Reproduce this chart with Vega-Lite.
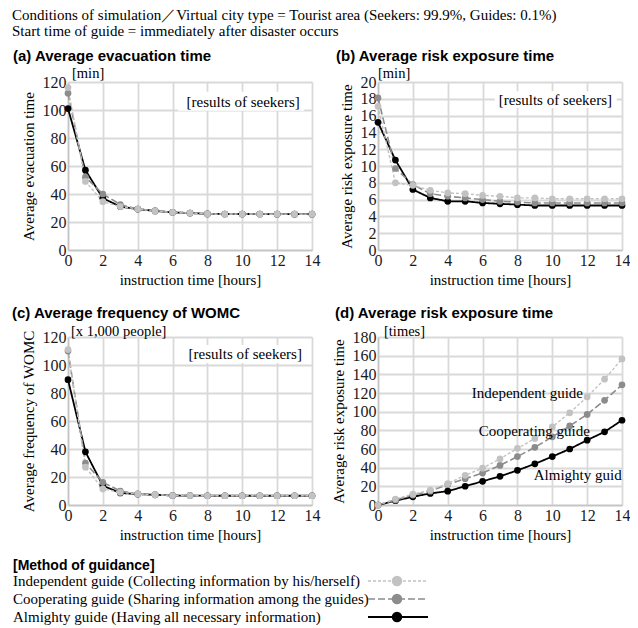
{
"$schema": "https://vega.github.io/schema/vega-lite/v6.json",
"background": "white",
"padding": {"left": 12, "top": 7, "right": 0, "bottom": 0},
"title": {"text": ["Conditions of simulation／Virtual city type = Tourist area (Seekers: 99.9%, Guides: 0.1%)", "Start time of guide = immediately after disaster occurs"], "anchor": "start", "frame": "bounds", "font": "Liberation Serif", "fontSize": 15, "fontWeight": "normal", "lineHeight": 16.5, "color": "#000", "offset": 10},
"columns": 2,
"bounds": "flush",
"spacing": {"row": 87, "column": 66},
"datasets": {
"a": [
{"method":"Almighty","hour":0,"value":101},{"method":"Almighty","hour":1,"value":57},{"method":"Almighty","hour":2,"value":37},{"method":"Almighty","hour":3,"value":31},{"method":"Almighty","hour":4,"value":29.2},{"method":"Almighty","hour":5,"value":27.9},{"method":"Almighty","hour":6,"value":26.9},{"method":"Almighty","hour":7,"value":26.4},{"method":"Almighty","hour":8,"value":25.8},{"method":"Almighty","hour":9,"value":25.7},{"method":"Almighty","hour":10,"value":25.7},{"method":"Almighty","hour":11,"value":25.7},{"method":"Almighty","hour":12,"value":25.6},{"method":"Almighty","hour":13,"value":25.6},{"method":"Almighty","hour":14,"value":25.6},
{"method":"Cooperating","hour":0,"value":112},{"method":"Cooperating","hour":1,"value":52},{"method":"Cooperating","hour":2,"value":40},{"method":"Cooperating","hour":3,"value":32.5},{"method":"Cooperating","hour":4,"value":29.3},{"method":"Cooperating","hour":5,"value":27.9},{"method":"Cooperating","hour":6,"value":26.9},{"method":"Cooperating","hour":7,"value":26.4},{"method":"Cooperating","hour":8,"value":25.8},{"method":"Cooperating","hour":9,"value":25.7},{"method":"Cooperating","hour":10,"value":25.7},{"method":"Cooperating","hour":11,"value":25.7},{"method":"Cooperating","hour":12,"value":25.6},{"method":"Cooperating","hour":13,"value":25.6},{"method":"Cooperating","hour":14,"value":25.6},
{"method":"Independent","hour":0,"value":116},{"method":"Independent","hour":1,"value":49},{"method":"Independent","hour":2,"value":34.5},{"method":"Independent","hour":3,"value":31},{"method":"Independent","hour":4,"value":29.3},{"method":"Independent","hour":5,"value":27.9},{"method":"Independent","hour":6,"value":26.9},{"method":"Independent","hour":7,"value":26.4},{"method":"Independent","hour":8,"value":25.8},{"method":"Independent","hour":9,"value":25.7},{"method":"Independent","hour":10,"value":25.7},{"method":"Independent","hour":11,"value":25.7},{"method":"Independent","hour":12,"value":25.6},{"method":"Independent","hour":13,"value":25.6},{"method":"Independent","hour":14,"value":25.6}
],
"b": [
{"method":"Almighty","hour":0,"value":15.2},{"method":"Almighty","hour":1,"value":10.7},{"method":"Almighty","hour":2,"value":7.2},{"method":"Almighty","hour":3,"value":6.2},{"method":"Almighty","hour":4,"value":5.8},{"method":"Almighty","hour":5,"value":5.8},{"method":"Almighty","hour":6,"value":5.6},{"method":"Almighty","hour":7,"value":5.5},{"method":"Almighty","hour":8,"value":5.4},{"method":"Almighty","hour":9,"value":5.3},{"method":"Almighty","hour":10,"value":5.3},{"method":"Almighty","hour":11,"value":5.3},{"method":"Almighty","hour":12,"value":5.3},{"method":"Almighty","hour":13,"value":5.3},{"method":"Almighty","hour":14,"value":5.3},
{"method":"Cooperating","hour":0,"value":18.1},{"method":"Cooperating","hour":1,"value":9.7},{"method":"Cooperating","hour":2,"value":7.8},{"method":"Cooperating","hour":3,"value":6.7},{"method":"Cooperating","hour":4,"value":6.4},{"method":"Cooperating","hour":5,"value":6.2},{"method":"Cooperating","hour":6,"value":6.0},{"method":"Cooperating","hour":7,"value":5.8},{"method":"Cooperating","hour":8,"value":5.7},{"method":"Cooperating","hour":9,"value":5.6},{"method":"Cooperating","hour":10,"value":5.6},{"method":"Cooperating","hour":11,"value":5.6},{"method":"Cooperating","hour":12,"value":5.6},{"method":"Cooperating","hour":13,"value":5.6},{"method":"Cooperating","hour":14,"value":5.6},
{"method":"Independent","hour":0,"value":17.1},{"method":"Independent","hour":1,"value":8.0},{"method":"Independent","hour":2,"value":7.7},{"method":"Independent","hour":3,"value":7.1},{"method":"Independent","hour":4,"value":6.8},{"method":"Independent","hour":5,"value":6.7},{"method":"Independent","hour":6,"value":6.5},{"method":"Independent","hour":7,"value":6.4},{"method":"Independent","hour":8,"value":6.2},{"method":"Independent","hour":9,"value":6.2},{"method":"Independent","hour":10,"value":6.1},{"method":"Independent","hour":11,"value":6.1},{"method":"Independent","hour":12,"value":6.1},{"method":"Independent","hour":13,"value":6.1},{"method":"Independent","hour":14,"value":6.1}
],
"c": [
{"method":"Almighty","hour":0,"value":89.5},{"method":"Almighty","hour":1,"value":38},{"method":"Almighty","hour":2,"value":13.8},{"method":"Almighty","hour":3,"value":8.6},{"method":"Almighty","hour":4,"value":7.8},{"method":"Almighty","hour":5,"value":7.3},{"method":"Almighty","hour":6,"value":6.8},{"method":"Almighty","hour":7,"value":6.7},{"method":"Almighty","hour":8,"value":6.6},{"method":"Almighty","hour":9,"value":6.6},{"method":"Almighty","hour":10,"value":6.6},{"method":"Almighty","hour":11,"value":6.6},{"method":"Almighty","hour":12,"value":6.6},{"method":"Almighty","hour":13,"value":6.6},{"method":"Almighty","hour":14,"value":6.6},
{"method":"Cooperating","hour":0,"value":110},{"method":"Cooperating","hour":1,"value":30},{"method":"Cooperating","hour":2,"value":16.2},{"method":"Cooperating","hour":3,"value":10},{"method":"Cooperating","hour":4,"value":7.9},{"method":"Cooperating","hour":5,"value":7.4},{"method":"Cooperating","hour":6,"value":6.8},{"method":"Cooperating","hour":7,"value":6.7},{"method":"Cooperating","hour":8,"value":6.6},{"method":"Cooperating","hour":9,"value":6.6},{"method":"Cooperating","hour":10,"value":6.6},{"method":"Cooperating","hour":11,"value":6.6},{"method":"Cooperating","hour":12,"value":6.6},{"method":"Cooperating","hour":13,"value":6.6},{"method":"Cooperating","hour":14,"value":6.6},
{"method":"Independent","hour":0,"value":111},{"method":"Independent","hour":1,"value":27},{"method":"Independent","hour":2,"value":11.5},{"method":"Independent","hour":3,"value":9},{"method":"Independent","hour":4,"value":7.9},{"method":"Independent","hour":5,"value":7.4},{"method":"Independent","hour":6,"value":6.8},{"method":"Independent","hour":7,"value":6.7},{"method":"Independent","hour":8,"value":6.6},{"method":"Independent","hour":9,"value":6.6},{"method":"Independent","hour":10,"value":6.6},{"method":"Independent","hour":11,"value":6.6},{"method":"Independent","hour":12,"value":6.6},{"method":"Independent","hour":13,"value":6.6},{"method":"Independent","hour":14,"value":6.6}
],
"d": [
{"method":"Almighty","hour":0,"value":0},{"method":"Almighty","hour":1,"value":4.6},{"method":"Almighty","hour":2,"value":8.8},{"method":"Almighty","hour":3,"value":12.4},{"method":"Almighty","hour":4,"value":14.8},{"method":"Almighty","hour":5,"value":20.1},{"method":"Almighty","hour":6,"value":25.4},{"method":"Almighty","hour":7,"value":30.7},{"method":"Almighty","hour":8,"value":37.1},{"method":"Almighty","hour":9,"value":44.1},{"method":"Almighty","hour":10,"value":51.9},{"method":"Almighty","hour":11,"value":60},{"method":"Almighty","hour":12,"value":69.5},{"method":"Almighty","hour":13,"value":78.4},{"method":"Almighty","hour":14,"value":90.8},
{"method":"Cooperating","hour":0,"value":0},{"method":"Cooperating","hour":1,"value":5.3},{"method":"Cooperating","hour":2,"value":10.6},{"method":"Cooperating","hour":3,"value":14.8},{"method":"Cooperating","hour":4,"value":21.9},{"method":"Cooperating","hour":5,"value":28.2},{"method":"Cooperating","hour":6,"value":34.2},{"method":"Cooperating","hour":7,"value":42.4},{"method":"Cooperating","hour":8,"value":51.9},{"method":"Cooperating","hour":9,"value":61.8},{"method":"Cooperating","hour":10,"value":73},{"method":"Cooperating","hour":11,"value":84.7},{"method":"Cooperating","hour":12,"value":97},{"method":"Cooperating","hour":13,"value":112.2},{"method":"Cooperating","hour":14,"value":128.8},
{"method":"Independent","hour":0,"value":0},{"method":"Independent","hour":1,"value":6.4},{"method":"Independent","hour":2,"value":11.6},{"method":"Independent","hour":3,"value":15.9},{"method":"Independent","hour":4,"value":23},{"method":"Independent","hour":5,"value":31.8},{"method":"Independent","hour":6,"value":39.5},{"method":"Independent","hour":7,"value":49.4},{"method":"Independent","hour":8,"value":60.7},{"method":"Independent","hour":9,"value":71.3},{"method":"Independent","hour":10,"value":83.7},{"method":"Independent","hour":11,"value":98.8},{"method":"Independent","hour":12,"value":115.8},{"method":"Independent","hour":13,"value":134.8},{"method":"Independent","hour":14,"value":156.5}
],
"legend": [
{"method":"Independent","label":"Independent guide (Collecting information by his/herself)"},
{"method":"Cooperating","label":"Cooperating guide (Sharing information among the guides)"},
{"method":"Almighty","label":"Almighty guide (Having all necessary information)"}
]
},
"concat": [
{
"width": 244, "height": 168,
"title": {"text": "(a) Average evacuation time", "anchor": "start", "frame": "group", "dx": -55, "offset": -10, "baseline": "alphabetic", "font": "Liberation Sans", "fontSize": 15, "fontWeight": "bold", "color": "#000"},
"layer": [
{"data": {"name": "a"}, "mark": {"type": "line"},
 "encoding": {
  "x": {"field": "hour", "type": "quantitative", "scale": {"domain": [0, 14], "nice": false}, "axis": {"tickCount": 7, "labelOverlap": false, "labelFlush": false, "title": "instruction time [hours]"}},
  "y": {"field": "value", "type": "quantitative", "scale": {"domain": [0, 120], "nice": false}, "axis": {"tickCount": 6, "labelOverlap": false, "title": "Average evacuation time"}},
  "color": {"field": "method", "type": "nominal", "scale": {"domain": ["Independent","Cooperating","Almighty"], "range": ["#c2c2c2","#8c8c8c","#000000"]}, "legend": null},
  "strokeDash": {"field": "method", "type": "nominal", "scale": {"domain": ["Independent","Cooperating","Almighty"], "range": [[3,2],[7,3],[1,0]]}, "legend": null},
  "strokeWidth": {"field": "method", "type": "nominal", "scale": {"domain": ["Independent","Cooperating","Almighty"], "range": [1.4,1.8,2]}, "legend": null}
 }},
{"data": {"name": "a"}, "mark": {"type": "point", "filled": true, "opacity": 1, "size": 45},
 "encoding": {
  "x": {"field": "hour", "type": "quantitative"},
  "y": {"field": "value", "type": "quantitative"},
  "color": {"field": "method", "type": "nominal", "scale": {"domain": ["Independent","Cooperating","Almighty"], "range": ["#bdbdbd","#8c8c8c","#000000"]}, "legend": null}
 }},
{"data": {"values": [{}]}, "mark": {"type": "rect", "fill": "white"},
 "encoding": {"x": {"datum": 6.3, "type": "quantitative"}, "x2": {"datum": 13.55}, "y": {"datum": 99.5, "type": "quantitative"}, "y2": {"datum": 113}}},
{"data": {"values": [{}]}, "mark": {"type": "text", "align": "right", "baseline": "middle", "font": "Liberation Serif", "fontSize": 15, "color": "#000"},
 "encoding": {"x": {"datum": 13.3, "type": "quantitative"}, "y": {"datum": 105.7, "type": "quantitative"}, "text": {"value": "[results of seekers]"}}},
{"data": {"values": [{}]}, "mark": {"type": "text", "align": "left", "baseline": "middle", "dx": 4, "dy": -8, "font": "Liberation Serif", "fontSize": 14.5, "color": "#000"},
 "encoding": {"x": {"datum": 0, "type": "quantitative"}, "y": {"datum": 120, "type": "quantitative"}, "text": {"value": "[min]"}}}
]
},
{
"width": 244, "height": 168,
"title": {"text": "(b) Average risk exposure time", "anchor": "start", "frame": "group", "dx": -42, "offset": -10, "baseline": "alphabetic", "font": "Liberation Sans", "fontSize": 15, "fontWeight": "bold", "color": "#000"},
"layer": [
{"data": {"name": "b"}, "mark": {"type": "line"},
 "encoding": {
  "x": {"field": "hour", "type": "quantitative", "scale": {"domain": [0, 14], "nice": false}, "axis": {"tickCount": 7, "labelOverlap": false, "labelFlush": false, "title": "instruction time [hours]"}},
  "y": {"field": "value", "type": "quantitative", "scale": {"domain": [0, 20], "nice": false}, "axis": {"tickCount": 10, "labelOverlap": false, "title": "Average risk exposure time"}},
  "color": {"field": "method", "type": "nominal", "scale": {"domain": ["Independent","Cooperating","Almighty"], "range": ["#c2c2c2","#8c8c8c","#000000"]}, "legend": null},
  "strokeDash": {"field": "method", "type": "nominal", "scale": {"domain": ["Independent","Cooperating","Almighty"], "range": [[3,2],[7,3],[1,0]]}, "legend": null},
  "strokeWidth": {"field": "method", "type": "nominal", "scale": {"domain": ["Independent","Cooperating","Almighty"], "range": [1.4,1.8,2]}, "legend": null}
 }},
{"data": {"name": "b"}, "mark": {"type": "point", "filled": true, "opacity": 1, "size": 45},
 "encoding": {
  "x": {"field": "hour", "type": "quantitative"},
  "y": {"field": "value", "type": "quantitative"},
  "color": {"field": "method", "type": "nominal", "scale": {"domain": ["Independent","Cooperating","Almighty"], "range": ["#bdbdbd","#8c8c8c","#000000"]}, "legend": null}
 }},
{"data": {"values": [{}]}, "mark": {"type": "rect", "fill": "white"},
 "encoding": {"x": {"datum": 6.7, "type": "quantitative"}, "x2": {"datum": 13.7}, "y": {"datum": 16.9, "type": "quantitative"}, "y2": {"datum": 18.9}}},
{"data": {"values": [{}]}, "mark": {"type": "text", "align": "right", "baseline": "middle", "font": "Liberation Serif", "fontSize": 15, "color": "#000"},
 "encoding": {"x": {"datum": 13.43, "type": "quantitative"}, "y": {"datum": 17.9, "type": "quantitative"}, "text": {"value": "[results of seekers]"}}},
{"data": {"values": [{}]}, "mark": {"type": "text", "align": "left", "baseline": "middle", "dx": 0, "dy": -8, "font": "Liberation Serif", "fontSize": 14.5, "color": "#000"},
 "encoding": {"x": {"datum": 0, "type": "quantitative"}, "y": {"datum": 20, "type": "quantitative"}, "text": {"value": "[min]"}}}
]
},
{
"width": 244, "height": 168,
"title": {"text": "(c) Average frequency of WOMC", "anchor": "start", "frame": "group", "dx": -56, "offset": -9, "baseline": "alphabetic", "font": "Liberation Sans", "fontSize": 15, "fontWeight": "bold", "color": "#000"},
"layer": [
{"data": {"name": "c"}, "mark": {"type": "line"},
 "encoding": {
  "x": {"field": "hour", "type": "quantitative", "scale": {"domain": [0, 14], "nice": false}, "axis": {"tickCount": 7, "labelOverlap": false, "labelFlush": false, "title": "instruction time [hours]"}},
  "y": {"field": "value", "type": "quantitative", "scale": {"domain": [0, 120], "nice": false}, "axis": {"tickCount": 6, "labelOverlap": false, "title": "Average frequency of WOMC"}},
  "color": {"field": "method", "type": "nominal", "scale": {"domain": ["Independent","Cooperating","Almighty"], "range": ["#c2c2c2","#8c8c8c","#000000"]}, "legend": null},
  "strokeDash": {"field": "method", "type": "nominal", "scale": {"domain": ["Independent","Cooperating","Almighty"], "range": [[3,2],[7,3],[1,0]]}, "legend": null},
  "strokeWidth": {"field": "method", "type": "nominal", "scale": {"domain": ["Independent","Cooperating","Almighty"], "range": [1.4,1.8,2]}, "legend": null}
 }},
{"data": {"name": "c"}, "mark": {"type": "point", "filled": true, "opacity": 1, "size": 45},
 "encoding": {
  "x": {"field": "hour", "type": "quantitative"},
  "y": {"field": "value", "type": "quantitative"},
  "color": {"field": "method", "type": "nominal", "scale": {"domain": ["Independent","Cooperating","Almighty"], "range": ["#bdbdbd","#8c8c8c","#000000"]}, "legend": null}
 }},
{"data": {"values": [{}]}, "mark": {"type": "rect", "fill": "white"},
 "encoding": {"x": {"datum": 6.7, "type": "quantitative"}, "x2": {"datum": 13.9}, "y": {"datum": 101.4, "type": "quantitative"}, "y2": {"datum": 114.3}}},
{"data": {"values": [{}]}, "mark": {"type": "text", "align": "right", "baseline": "middle", "font": "Liberation Serif", "fontSize": 15, "color": "#000"},
 "encoding": {"x": {"datum": 13.42, "type": "quantitative"}, "y": {"datum": 108, "type": "quantitative"}, "text": {"value": "[results of seekers]"}}},
{"data": {"values": [{}]}, "mark": {"type": "text", "align": "left", "baseline": "middle", "dx": 3, "dy": -5, "font": "Liberation Serif", "fontSize": 14.5, "color": "#000"},
 "encoding": {"x": {"datum": 0, "type": "quantitative"}, "y": {"datum": 120, "type": "quantitative"}, "text": {"value": "[x 1,000 people]"}}}
]
},
{
"width": 244, "height": 168,
"title": {"text": "(d) Average risk exposure time", "anchor": "start", "frame": "group", "dx": -43, "offset": -9, "baseline": "alphabetic", "font": "Liberation Sans", "fontSize": 15, "fontWeight": "bold", "color": "#000"},
"layer": [
{"data": {"name": "d"}, "mark": {"type": "line"},
 "encoding": {
  "x": {"field": "hour", "type": "quantitative", "scale": {"domain": [0, 14], "nice": false}, "axis": {"tickCount": 7, "labelOverlap": false, "labelFlush": false, "title": "instruction time [hours]"}},
  "y": {"field": "value", "type": "quantitative", "scale": {"domain": [0, 180], "nice": false}, "axis": {"tickCount": 9, "labelOverlap": false, "title": "Average risk exposure time"}},
  "color": {"field": "method", "type": "nominal", "scale": {"domain": ["Independent","Cooperating","Almighty"], "range": ["#c2c2c2","#8c8c8c","#000000"]}, "legend": null},
  "strokeDash": {"field": "method", "type": "nominal", "scale": {"domain": ["Independent","Cooperating","Almighty"], "range": [[3,2],[7,3],[1,0]]}, "legend": null},
  "strokeWidth": {"field": "method", "type": "nominal", "scale": {"domain": ["Independent","Cooperating","Almighty"], "range": [1.4,1.8,2]}, "legend": null}
 }},
{"data": {"name": "d"}, "mark": {"type": "point", "filled": true, "opacity": 1, "size": 45},
 "encoding": {
  "x": {"field": "hour", "type": "quantitative"},
  "y": {"field": "value", "type": "quantitative"},
  "color": {"field": "method", "type": "nominal", "scale": {"domain": ["Independent","Cooperating","Almighty"], "range": ["#bdbdbd","#8c8c8c","#000000"]}, "legend": null}
 }},
{"data": {"values": [{}]}, "mark": {"type": "text", "align": "right", "baseline": "middle", "font": "Liberation Serif", "fontSize": 15, "color": "#000"},
 "encoding": {"x": {"datum": 11.76, "type": "quantitative"}, "y": {"datum": 120.3, "type": "quantitative"}, "text": {"value": "Independent guide"}}},
{"data": {"values": [{}]}, "mark": {"type": "text", "align": "right", "baseline": "middle", "font": "Liberation Serif", "fontSize": 15, "color": "#000"},
 "encoding": {"x": {"datum": 12.16, "type": "quantitative"}, "y": {"datum": 79, "type": "quantitative"}, "text": {"value": "Cooperating guide"}}},
{"data": {"values": [{}]}, "mark": {"type": "text", "align": "right", "baseline": "middle", "font": "Liberation Serif", "fontSize": 15, "color": "#000"},
 "encoding": {"x": {"datum": 13.98, "type": "quantitative"}, "y": {"datum": 32.5, "type": "quantitative"}, "text": {"value": "Almighty guid"}}},
{"data": {"values": [{}]}, "mark": {"type": "text", "align": "left", "baseline": "middle", "dx": 6, "dy": -5, "font": "Liberation Serif", "fontSize": 14.5, "color": "#000"},
 "encoding": {"x": {"datum": 0, "type": "quantitative"}, "y": {"datum": 180, "type": "quantitative"}, "text": {"value": "[times]"}}}
]
},
{
"width": 244, "height": 33,
"title": {"text": "[Method of guidance]", "anchor": "start", "frame": "group", "dx": -55, "offset": -10, "baseline": "alphabetic", "font": "Liberation Sans", "fontSize": 14, "fontWeight": "bold", "color": "#000"},
"data": {"name": "legend"},
"encoding": {"y": {"field": "method", "type": "nominal", "scale": {"type": "point", "domain": ["Independent","Cooperating","Almighty"], "range": [-11, 25], "padding": 0}, "axis": null}},
"layer": [
{"mark": {"type": "text", "align": "left", "baseline": "middle", "font": "Liberation Serif", "fontSize": 15, "color": "#000"},
 "encoding": {"x": {"datum": -55, "type": "quantitative", "scale": {"domain": [0, 244], "nice": false}, "axis": null}, "text": {"field": "label"}}},
{"mark": {"type": "rule"},
 "encoding": {"x": {"datum": 300, "type": "quantitative"}, "x2": {"datum": 360},
  "color": {"field": "method", "type": "nominal", "scale": {"domain": ["Independent","Cooperating","Almighty"], "range": ["#c2c2c2","#8c8c8c","#000000"]}, "legend": null},
  "strokeDash": {"field": "method", "type": "nominal", "scale": {"domain": ["Independent","Cooperating","Almighty"], "range": [[3,2],[7,3],[1,0]]}, "legend": null},
  "strokeWidth": {"field": "method", "type": "nominal", "scale": {"domain": ["Independent","Cooperating","Almighty"], "range": [1.4,1.8,2.2]}, "legend": null}}},
{"mark": {"type": "point", "filled": true, "opacity": 1, "size": 110},
 "encoding": {"x": {"datum": 329, "type": "quantitative"},
  "color": {"field": "method", "type": "nominal", "scale": {"domain": ["Independent","Cooperating","Almighty"], "range": ["#bdbdbd","#8c8c8c","#000000"]}, "legend": null}}}
]
}
],
"config": {
 "view": {"stroke": null},
 "axis": {"ticks": false, "labelPadding": 2, "domainColor": "#c4c4c4", "domainWidth": 1.5, "gridColor": "#d9d9d9", "gridWidth": 1.8, "labelFont": "Liberation Sans Narrow", "labelFontSize": 16, "labelColor": "#1a1a1a", "labelOverlap": false, "labelFlush": false, "titleFont": "Liberation Serif", "titleFontSize": 15, "titleFontWeight": "normal", "titleColor": "#000"},
 "axisX": {"titlePadding": 4},
 "axisY": {"titlePadding": 6}
}
}
